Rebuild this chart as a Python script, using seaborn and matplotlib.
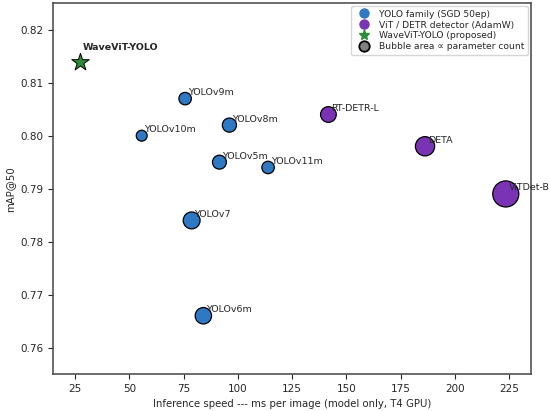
import pandas as pd
import matplotlib
matplotlib.use("Agg")
import matplotlib.pyplot as plt
import seaborn as sns
from matplotlib.lines import Line2D

# model names, speed (ms / image), mAP@50, params (M)
yolo_names = ["YOLOv9m", "YOLOv10m", "YOLOv8m", "YOLOv5m", "YOLOv11m", "YOLOv7", "YOLOv6m"]
yolo_speed = [75.7, 55.7, 96.1, 91.5, 113.9, 78.7, 84.1]
yolo_map = [0.807, 0.800, 0.802, 0.795, 0.794, 0.784, 0.766]
yolo_params = [20.1, 15.4, 25.9, 25.1, 20.1, 36.9, 34.9]

vit_names = ["RT-DETR-L", "DETA", "ViTDet-B"]
vit_speed = [141.7, 186.2, 223.4]
vit_map = [0.804, 0.798, 0.789]
vit_params = [32.0, 48.0, 88.0]

ours_name = "WaveViT-YOLO"
ours_speed = [27.3]
ours_map = [0.814]

blue = "#2f78c4"
purple = "#7a33b4"
green = "#2e8b37"

sns.set_style("ticks")
plt.rcParams["font.family"] = ["DejaVu Sans"]

yolo = pd.DataFrame({"name": yolo_names, "speed": yolo_speed, "map": yolo_map, "params": yolo_params})
vit = pd.DataFrame({"name": vit_names, "speed": vit_speed, "map": vit_map, "params": vit_params})

fig = plt.figure(figsize=(5.5, 4.11), dpi=100)
ax = fig.add_axes([0.097, 0.090, 0.868, 0.902])

sns.scatterplot(data=yolo, x="speed", y="map", s=yolo["params"] * 4, color=blue,
                edgecolor="black", linewidth=0.9, ax=ax, zorder=3)
sns.scatterplot(data=vit, x="speed", y="map", s=vit["params"] * 4, color=purple,
                edgecolor="black", linewidth=0.9, ax=ax, zorder=3)
ax.scatter(ours_speed, ours_map, marker="*", s=175, color=green, edgecolor="black",
           linewidth=0.7, zorder=4)

# labels next to bubbles
for df in (yolo, vit):
    for _, r in df.iterrows():
        ax.annotate(r["name"], (r["speed"], r["map"]), xytext=(2, 2.5),
                    textcoords="offset points", fontsize=6.8)
ax.annotate(ours_name, (ours_speed[0], ours_map[0]), xytext=(2, 8),
            textcoords="offset points", fontsize=6.8, fontweight="bold")

ax.set_xlim(15.0, 234.9)
ax.set_ylim(0.755, 0.825)
ax.set_xticks([25, 50, 75, 100, 125, 150, 175, 200, 225])
ax.set_yticks([0.76, 0.77, 0.78, 0.79, 0.80, 0.81, 0.82])
ax.set_yticklabels(["0.76", "0.77", "0.78", "0.79", "0.80", "0.81", "0.82"])
ax.tick_params(labelsize=7.5, length=3.5, width=0.8)
ax.set_xlabel("Inference speed --- ms per image (model only, T4 GPU)", fontsize=7.3)
ax.set_ylabel("mAP@50", fontsize=7.3)
for sp in ax.spines.values():
    sp.set_linewidth(1.1)
    sp.set_color("#444444")

handles = [
    Line2D([], [], marker="o", ls="", color=blue, markersize=6.5, label="YOLO family (SGD 50ep)"),
    Line2D([], [], marker="o", ls="", color=purple, markersize=6.5, label="ViT / DETR detector (AdamW)"),
    Line2D([], [], marker="*", ls="", color=green, markersize=8, label="WaveViT-YOLO (proposed)"),
    Line2D([], [], marker="o", ls="", color="grey", markeredgecolor="black", markeredgewidth=1.3,
           markersize=7.5, label="Bubble area \u221d parameter count"),
]
ax.legend(handles=handles, loc="upper right", fontsize=6.6, borderaxespad=0.3,
          handletextpad=0.6, labelspacing=0.2, frameon=True)

fig.savefig("out.png", dpi=100)
